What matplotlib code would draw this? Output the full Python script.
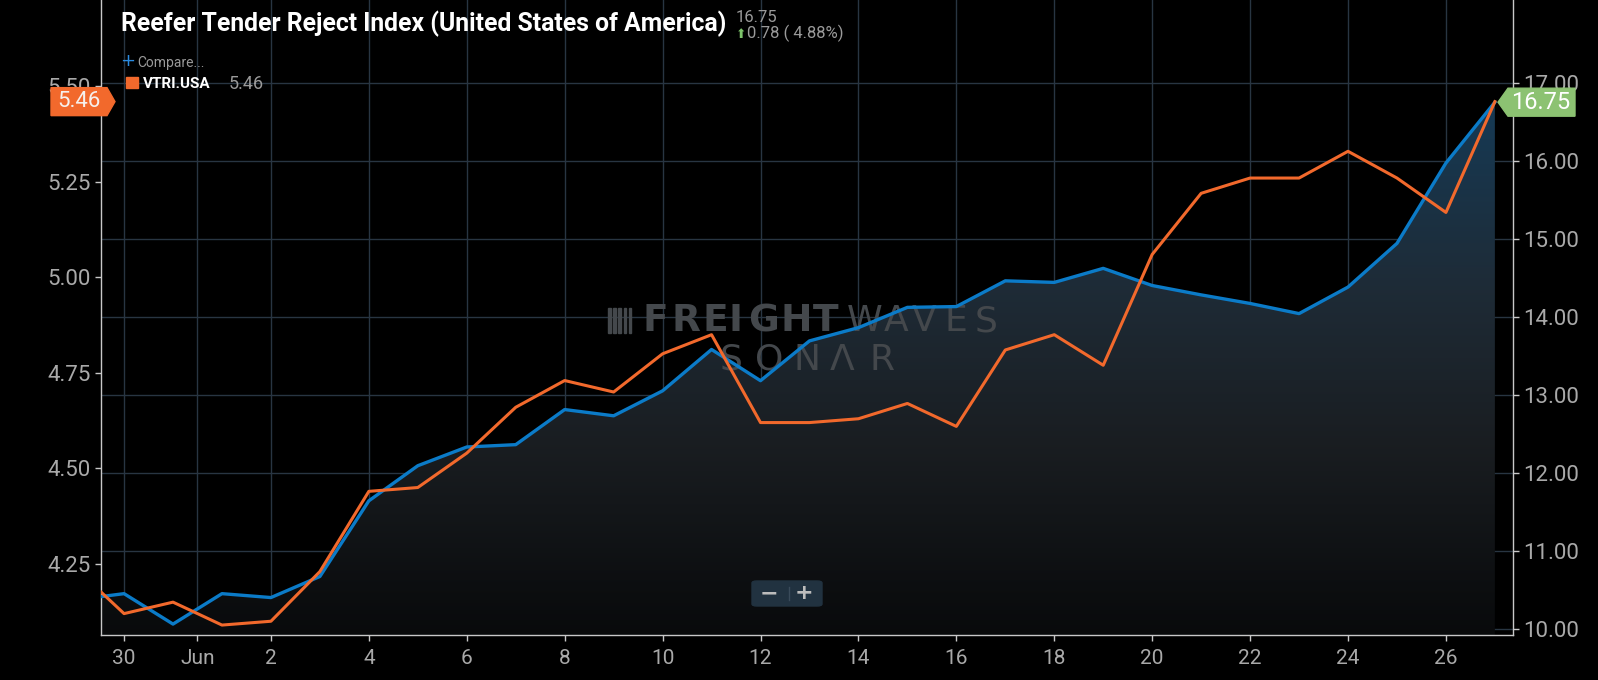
import matplotlib
matplotlib.use('Agg')
import matplotlib.pyplot as plt
import matplotlib.dates as mdates
import numpy as np
import pandas as pd
from matplotlib.colors import LinearSegmentedColormap
from matplotlib.patches import Polygon, FancyBboxPatch, Rectangle, PathPatch
from matplotlib.transforms import IdentityTransform

# daily values, May 29 .. Jun 27
dates = pd.date_range('2021-05-29', '2021-06-27', freq='D')
vtri = [4.24, 4.12, 4.15, 4.09, 4.10, 4.23, 4.44, 4.45, 4.54, 4.66,
        4.73, 4.70, 4.80, 4.85, 4.62, 4.62, 4.63, 4.67, 4.61, 4.81,
        4.85, 4.77, 5.06, 5.22, 5.26, 5.26, 5.33, 5.26, 5.17, 5.46]
rtri = [10.37, 10.45, 10.06, 10.45, 10.40, 10.67, 11.64, 12.09, 12.33, 12.36,
        12.81, 12.73, 13.05, 13.58, 13.18, 13.69, 13.86, 14.12, 14.13, 14.46,
        14.44, 14.62, 14.40, 14.28, 14.17, 14.04, 14.38, 14.94, 15.97, 16.75]

tick_dates = ['2021-05-30 00:00', '2021-05-31 12:00', '2021-06-02 00:00',
              '2021-06-04 00:00', '2021-06-06 00:00', '2021-06-08 00:00',
              '2021-06-10 00:00', '2021-06-12 00:00', '2021-06-14 00:00',
              '2021-06-16 00:00', '2021-06-18 00:00', '2021-06-20 00:00',
              '2021-06-22 00:00', '2021-06-24 00:00', '2021-06-26 00:00']
tick_labels = ['30', 'Jun', '2', '4', '6', '8', '10', '12', '14', '16',
               '18', '20', '22', '24', '26']
left_ticks = [4.25, 4.50, 4.75, 5.00, 5.25, 5.50]
right_ticks = [10, 11, 12, 13, 14, 15, 16, 17]

title = 'Reefer Tender Reject Index (United States of America)'
change = '0.78 ( 4.88%)'

W, H = 1598, 680
plt.rcParams['font.family'] = ['Roboto', 'DejaVu Sans']

BLUE = '#0b7bc8'
ORANGE = '#f2692c'
GRID = '#283542'
LABEL = '#a9a9a9'
WMARK = '#44484c'


def px(x, y):
    # pixel position from the top-left corner -> figure fraction
    return x / W, 1 - y / H


fig = plt.figure(figsize=(W / 100, H / 100), dpi=100, facecolor='black')
ax = fig.add_axes([101 / W, 45 / H, (1513 - 101) / W, 635 / H])
ax.set_facecolor('black')
ax2 = ax.twinx()

x0 = pd.Timestamp('2021-05-30') - pd.Timedelta(hours=11.3)
x1 = pd.Timestamp('2021-05-30') + pd.Timedelta(hours=28.37 * 24)
ax.set_xlim(x0, x1)
ax.set_ylim(9.92, 18.06)
ax2.set_ylim(4.064, 5.726)

# gradient area under the blue series
fill = ax.fill_between(dates, rtri, 9.92, color='none', lw=0)
clip = PathPatch(fill.get_paths()[0], transform=ax.transData,
                 facecolor='none', edgecolor='none')
ax.add_patch(clip)
cmap = LinearSegmentedColormap.from_list('area', [
    (0.0, (0.035, 0.04, 0.045)),
    (0.08, (0.05, 0.058, 0.066)),
    (0.30, (0.10, 0.115, 0.13)),
    (0.54, (0.118, 0.168, 0.212)),
    (0.84, (0.086, 0.227, 0.333)),
    (1.0, (0.08, 0.235, 0.35))])
grad = np.linspace(0, 1, 256).reshape(-1, 1)
xa, xb = mdates.date2num(x0), mdates.date2num(x1)
im = ax.imshow(grad, extent=[xa, xb, 9.92, 18.06], origin='lower',
               aspect='auto', cmap=cmap, zorder=1)
im.set_clip_path(clip)

ax.plot(dates, rtri, color=BLUE, lw=2.4, zorder=3, solid_joinstyle='round')
ax2.plot(dates, vtri, color=ORANGE, lw=2.2, zorder=3, solid_joinstyle='round')

# axes styling
ax.set_xticks(pd.to_datetime(tick_dates, format='%Y-%m-%d %H:%M'))
ax.set_xticklabels(tick_labels)
ax.set_yticks(right_ticks)
ax.set_yticklabels(['%.2f' % v for v in right_ticks])
ax.yaxis.set_ticks_position('right')
ax.yaxis.set_label_position('right')
ax2.set_yticks(left_ticks)
ax2.set_yticklabels(['%.2f' % v for v in left_ticks])
ax2.yaxis.set_ticks_position('left')
ax2.yaxis.set_label_position('left')
ax.grid(True, color=GRID, lw=1)
ax.set_axisbelow(True)
for a in (ax, ax2):
    for s in a.spines.values():
        s.set_visible(False)
    a.tick_params(colors='#c8c8c8', labelcolor=LABEL, labelsize=16,
                  length=4, width=1)
ax.tick_params(axis='x', labelsize=15, pad=6)
for side in ('left', 'right', 'bottom'):
    ax.spines[side].set_visible(True)
    ax.spines[side].set_color('#c8c8c8')
    ax.spines[side].set_linewidth(1)

# watermark, letter by letter
wm = dict(transform=fig.transFigure, color=WMARK, zorder=2,
          va='center', ha='center', family='DejaVu Sans')
for i in range(5):
    ax.add_patch(Rectangle(px(608 + i * 5.2, 333), 2.6 / W, 25 / H,
                           transform=fig.transFigure, color=WMARK, zorder=2))
for ch, xc in zip('FREIGHT', [655, 686, 715, 736, 763, 796, 826]):
    ax.text(*px(xc, 321), ch, fontsize=27, fontweight='heavy', **wm)
for ch, xc in zip('WAVES', [865, 896, 924, 956, 986]):
    ax.text(*px(xc, 321), ch, fontsize=26, fontweight='normal', **wm)
for ch, xc in zip('SONΛR', [731, 769, 807, 842, 882]):
    ax.text(*px(xc, 360), ch, fontsize=26, fontweight='normal', **wm)

# zoom buttons
fig.patches.append(FancyBboxPatch(px(752, 606), 70 / W, 25 / H,
                                  boxstyle='round,pad=0,rounding_size=0.003',
                                  transform=fig.transFigure, color='#213240'))
fig.add_artist(plt.Line2D([789 / W, 789 / W], [1 - 600 / H, 1 - 587 / H],
                          transform=fig.transFigure, color='#3a4b5a', lw=1))
fig.text(*px(769, 593), '−', color='#bcbcbc', fontsize=16,
         fontweight='bold', ha='center', va='center', family='DejaVu Sans')
fig.text(*px(804, 593), '+', color='#bcbcbc', fontsize=16,
         fontweight='bold', ha='center', va='center', family='DejaVu Sans')

# header
fig.text(*px(121, 24), title, color='white', fontsize=17.8,
         fontweight='bold', ha='left', va='center')
fig.text(*px(736, 17), '%.2f' % rtri[-1], color='#9a9a9a', fontsize=12,
         ha='left', va='center')
fig.text(*px(741, 34), '⬆', color='#7cc36a', fontsize=9,
         ha='center', va='center', family='DejaVu Sans')
fig.text(*px(747, 33), change, color='#9a9a9a', fontsize=12,
         ha='left', va='center')

# legend
fig.text(*px(120, 61), '+', color='#2a8be0', fontsize=13,
         ha='left', va='center', family='DejaVu Sans')
fig.text(*px(137, 63), 'Compare...', color='#9a9a9a', fontsize=10,
         ha='left', va='center')
fig.patches.append(Rectangle(px(126, 88), 12 / W, 11 / H,
                             transform=fig.transFigure, color=ORANGE))
fig.text(*px(143, 84), 'VTRI.USA', color='white', fontsize=11,
         fontweight='bold', ha='left', va='center')
fig.text(*px(229, 84), '%.2f' % vtri[-1], color='#9a9a9a', fontsize=13,
         ha='left', va='center')

# value tags at the last point
fig.canvas.draw()
yl = ax2.transData.transform((0, vtri[-1]))[1]
yr = ax.transData.transform((0, rtri[-1]))[1]
fig.patches.append(Polygon([(51, yl - 14), (107, yl - 14), (115, yl),
                            (107, yl + 14), (51, yl + 14)],
                           transform=IdentityTransform(), color=ORANGE))
fig.text(79 / W, yl / H, '%.2f' % vtri[-1], color='#f6f0ec', fontsize=16,
         ha='center', va='center')
fig.patches.append(Polygon([(1498, yr), (1508, yr + 14), (1575, yr + 14),
                            (1575, yr - 14), (1508, yr - 14)],
                           transform=IdentityTransform(), color='#8cc272'))
fig.text(1541 / W, yr / H, '%.2f' % rtri[-1], color='white', fontsize=17,
         ha='center', va='center')

fig.savefig('out.png', dpi=100, facecolor='black')
